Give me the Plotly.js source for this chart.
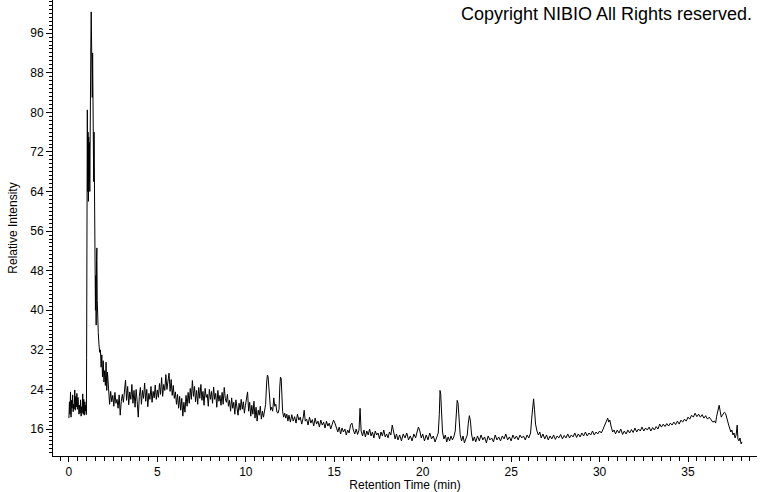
<!DOCTYPE html>
<html>
<head>
<meta charset="utf-8">
<script src="https://cdn.plot.ly/plotly-3.0.1.min.js"></script>
<style>
  html, body { margin: 0; padding: 0; background: #fff; }
  #chart { width: 760px; height: 492px; }
</style>
</head>
<body>
<div id="chart"></div>
<script>
// [retention time (min), relative intensity]
const preSolvent = [[0.00,18.2],[0.03,21.5],[0.06,19.0],[0.09,23.5],[0.12,18.4],[0.15,21.8],[0.18,20.2],[0.21,22.9],[0.24,19.5],[0.27,21.0],
  [0.30,20.1],[0.33,23.9],[0.36,19.8],[0.39,22.6],[0.42,20.5],[0.45,23.2],[0.48,20.0],[0.51,22.4],[0.54,21.0],[0.57,19.0],
  [0.60,20.8],[0.63,19.2],[0.66,21.9],[0.69,18.6],[0.72,20.5],[0.75,19.3],[0.78,23.1],[0.81,19.0],[0.84,22.0],[0.87,18.8],
  [0.90,21.5],[0.93,19.6],[0.96,20.8],[0.98,18.9]];

const solventPeak = [[0.99,19.5],[1.00,30.5],[1.02,62],[1.04,80.5],[1.06,64],[1.08,76],[1.10,62],[1.12,75],[1.14,66],[1.16,74],
  [1.18,64],[1.20,70],[1.22,82],[1.24,94],[1.26,100.3],[1.28,86],[1.30,94.5],[1.32,83],[1.34,92],[1.36,82],
  [1.38,77.8],[1.40,66],[1.42,76],[1.44,62],[1.46,67],[1.48,53],[1.50,40],[1.52,47],[1.54,37],[1.56,50],
  [1.58,52.6],[1.60,42],[1.62,36],[1.64,41],[1.66,35.5],[1.70,33],[1.74,31.5],[1.78,32],[1.82,28.5],[1.86,31],
  [1.90,26.5],[1.94,29.8],[1.98,25.5],[2.02,27.8],[2.06,24.8],[2.10,29.5],[2.14,23.8],[2.18,27.5],[2.22,24.2],[2.26,22.5]];

const earlyPlateau = [[2.30,21.0],[2.36,23.6],[2.42,21.5],[2.48,22.8],[2.54,20.6],[2.60,23.4],[2.66,21.2],[2.72,22.0],[2.78,20.2],[2.84,22.9],[2.90,18.8],[2.96,21.6],[3.02,23.0],
  [3.08,21.4],[3.14,24.2],[3.20,25.9],[3.26,21.8],[3.32,24.6],[3.38,20.9],[3.44,23.5],[3.50,22.0],[3.56,25.0],[3.62,21.2],[3.68,23.8],[3.74,20.4],[3.80,24.0],[3.86,21.5],[3.92,18.4],[3.98,22.6],[4.04,24.4],
  [4.10,21.0],[4.16,23.8],[4.22,22.2],[4.28,25.3],[4.34,21.6],[4.40,24.0],[4.46,20.5],[4.52,23.2],[4.58,22.0],[4.64,24.6],[4.70,21.4],[4.76,23.6],[4.82,22.3],[4.88,24.9],[4.94,22.0],[5.00,23.9],
  [5.06,22.4],[5.12,25.2],[5.18,23.0],[5.24,26.4],[5.30,22.6],[5.36,25.0],[5.42,23.8],[5.48,27.0],[5.54,24.0],[5.60,25.8],[5.66,27.3],[5.72,23.6],[5.78,26.0],[5.84,22.8],[5.90,24.8],[5.96,22.2],[6.02,23.5],
  [6.08,21.0],[6.14,23.0],[6.20,20.2],[6.26,22.6],[6.32,19.8],[6.38,22.2],[6.44,18.6],[6.50,21.4],[6.56,19.4],[6.62,22.8],[6.68,20.6],[6.74,23.4],[6.80,21.2],[6.86,24.2],[6.92,22.0],[6.98,25.8],[7.04,22.6],
  [7.10,24.6],[7.16,21.5],[7.22,23.8],[7.28,21.0],[7.34,24.4],[7.40,22.2],[7.46,25.0],[7.52,21.8],[7.58,23.6],[7.64,20.8],[7.70,24.2],[7.76,22.4],[7.82,23.0],[7.88,20.6],[7.94,24.0],[8.00,22.0],
  [8.06,23.6],[8.12,21.2],[8.18,24.5],[8.24,22.0],[8.30,23.2],[8.36,20.4],[8.42,23.8],[8.48,21.6],[8.54,22.8],[8.60,20.8],[8.66,23.4],[8.72,21.0],[8.78,24.4],[8.84,22.2],[8.90,21.4],[8.96,23.0],[9.02,20.6],
  [9.08,21.8],[9.14,19.6],[9.20,22.3],[9.26,20.2],[9.32,21.4],[9.38,19.0],[9.44,21.9],[9.50,20.4],[9.56,18.8],[9.62,21.2],[9.68,19.8],[9.74,22.0],[9.80,20.0],[9.86,21.5],[9.92,19.2],[9.98,20.8],[10.04,22.4]];

const peaks11to12 = [[10.10,23.5],[10.16,19.6],[10.22,21.4],[10.28,18.6],[10.34,20.8],[10.40,19.0],[10.46,21.6],[10.52,18.2],[10.58,20.4],[10.64,17.6],
  [10.70,19.8],[10.76,18.8],[10.82,20.6],[10.88,18.0],[10.94,19.6],[11.00,18.4],[11.06,19.8],[11.12,21.0],[11.18,25.5],[11.22,26.9],
  [11.26,26.6],[11.30,24.0],[11.34,21.0],[11.40,19.8],[11.46,20.4],[11.52,19.6],[11.58,22.3],[11.64,20.6],[11.70,21.0],[11.76,19.4],
  [11.82,19.2],[11.88,20.0],[11.92,24.5],[11.96,26.5],[12.00,26.2],[12.04,23.0],[12.08,19.6],[12.14,18.4],[12.20,19.2],[12.26,18.2],
  [12.32,19.0],[12.38,17.6]];

const midBaseline = [[12.44,18.8],[12.52,17.4],[12.60,18.9],[12.68,17.6],[12.76,18.5],[12.84,17.2],[12.92,19.0],[13.00,17.8],[13.08,18.4],[13.16,17.0],
  [13.24,18.2],[13.30,19.8],[13.36,17.6],[13.44,18.0],[13.52,16.8],[13.60,18.4],[13.68,17.2],[13.76,17.9],[13.84,16.6],[13.92,18.2],
  [14.00,17.0],[14.08,17.6],[14.16,16.4],[14.24,17.8],[14.32,16.8],[14.40,17.4],[14.48,16.2],[14.56,17.6],[14.64,16.6],[14.72,17.2],
  [14.80,16.0],[14.88,16.9],[14.96,17.8],[15.04,17.2],[15.12,16.2],[15.20,15.4],[15.28,16.4],[15.36,15.0],[15.44,16.2],[15.52,15.4],
  [15.60,16.0],[15.68,14.8],[15.76,15.8],[15.84,15.2],[15.92,16.8],[16.00,17.2],[16.08,15.8],[16.16,15.0],[16.24,16.0],[16.32,14.9],
  [16.40,15.8],[16.46,20.2],[16.52,15.6],[16.60,14.6],[16.68,15.8],[16.76,14.4],[16.84,15.6],[16.92,14.8],[17.00,16.0],[17.08,14.6],
  [17.16,15.4],[17.24,14.2],[17.32,15.6],[17.40,14.8],[17.48,15.2],[17.56,14.0],[17.64,15.4],[17.72,14.6],[17.80,15.8],[17.88,14.4],
  [17.96,15.0],[18.04,14.2],[18.12,15.4],[18.20,14.8],[18.28,16.8],[18.36,15.2],[18.44,14.0],[18.52,15.0],[18.60,13.8],[18.70,14.8],
  [18.80,13.6],[18.90,15.0],[19.00,14.2],[19.10,15.2],[19.20,13.8],[19.30,14.6],[19.40,13.6],[19.50,15.0],[19.60,14.2],[19.68,15.4],
  [19.76,16.4],[19.84,15.6],[19.92,14.2],[20.00,15.0],[20.10,13.6],[20.20,14.8],[20.30,13.8],[20.40,15.2],[20.50,14.0],[20.60,14.6],
  [20.70,13.4],[20.80,14.4],[20.88,15.2]];

const peaks21to23 = [[20.94,19.0],[20.98,23.8],[21.02,23.0],[21.06,18.5],[21.12,15.4],[21.20,14.0],[21.28,14.8],[21.36,13.4],[21.44,14.4],[21.52,13.6],
  [21.60,14.6],[21.68,13.8],[21.76,14.4],[21.84,15.6],[21.90,20.0],[21.95,21.8],[22.00,21.2],[22.06,17.0],[22.12,14.8],[22.20,13.6],
  [22.28,14.6],[22.36,13.2],[22.44,14.2],[22.52,14.8],[22.58,17.2],[22.64,18.7],[22.70,17.6],[22.76,15.0],[22.84,13.6],[22.92,14.4]];

const peak26 = [[23.00,13.4],[23.10,14.6],[23.20,13.6],[23.30,14.8],[23.40,13.8],[23.50,14.4],[23.60,13.2],[23.70,14.6],[23.80,13.8],[23.90,14.2],
  [24.00,13.4],[24.10,14.8],[24.20,13.8],[24.30,14.4],[24.40,13.6],[24.50,14.6],[24.60,14.0],[24.70,15.0],[24.80,13.8],[24.90,14.4],
  [25.00,13.6],[25.10,14.8],[25.20,14.0],[25.30,14.6],[25.40,13.8],[25.50,14.8],[25.60,14.2],[25.70,14.6],[25.80,13.8],[25.90,14.8],
  [26.00,14.2],[26.10,15.2],[26.16,18.0],[26.22,21.6],[26.27,22.1],[26.32,20.0],[26.38,17.0],[26.46,15.6],[26.54,14.8],[26.62,15.4]];

const lateBaseline = [[26.70,14.2],[26.80,15.0],[26.90,14.0],[27.00,14.8],[27.10,13.8],[27.20,14.6],[27.30,14.0],[27.40,14.8],[27.50,13.9],[27.60,14.6],
  [27.70,14.2],[27.80,14.9],[27.90,14.0],[28.00,14.7],[28.10,14.2],[28.20,15.0],[28.30,14.2],[28.40,14.8],[28.50,14.4],[28.60,15.2],
  [28.70,14.3],[28.80,15.0],[28.90,14.4],[29.00,15.2],[29.10,14.6],[29.20,15.4],[29.30,14.6],[29.40,15.2],[29.50,14.8],[29.60,15.6],
  [29.70,14.8],[29.80,15.4],[29.90,15.0],[30.00,15.6],[30.10,15.2],[30.20,16.0],[30.30,16.8],[30.40,17.6],[30.46,18.2],[30.52,17.4],
  [30.58,17.8],[30.66,16.4],[30.74,15.4],[30.82,15.8]];

const finalHump = [[30.90,15.0],[31.00,15.8],[31.10,15.2],[31.20,16.0],[31.30,14.9],[31.40,15.6],[31.50,15.0],[31.60,15.8],[31.70,15.2],[31.80,15.9],
  [31.90,15.3],[32.00,16.2],[32.10,15.4],[32.20,16.0],[32.30,15.6],[32.40,16.4],[32.50,15.6],[32.60,16.2],[32.70,15.8],[32.80,16.4],
  [32.90,15.6],[33.00,16.3],[33.10,15.8],[33.20,16.5],[33.30,16.0],[33.40,17.0],[33.50,16.4],[33.60,17.0],[33.70,16.5],[33.80,17.1],
  [33.90,16.6],[34.00,17.2],[34.10,16.8],[34.20,17.4],[34.30,16.9],[34.40,17.6],[34.50,17.0],[34.60,17.8],[34.70,17.4],[34.80,18.0],
  [34.90,17.6],[35.00,18.4],[35.10,18.0],[35.20,18.8],[35.30,18.4],[35.40,19.2],[35.50,18.5],[35.60,19.0],[35.70,18.4],[35.80,18.9],
  [35.90,18.2],[36.00,18.7],[36.10,18.0],[36.20,18.4],[36.30,17.8],[36.40,17.4],[36.50,17.6],[36.56,17.2],[36.62,18.6],[36.70,20.0],
  [36.76,20.8],[36.82,19.6],[36.88,18.4],[36.94,18.8],[37.00,19.0],[37.06,19.4],[37.12,19.2],[37.18,18.6],[37.24,17.6],[37.30,16.8],
  [37.36,16.0],[37.42,15.4],[37.48,15.8],[37.54,14.8],[37.60,15.2],[37.66,14.2],[37.72,14.8],[37.78,16.8],[37.82,14.0],[37.88,13.6],
  [37.94,14.2],[38.00,13.0],[38.05,13.4]];

const yTickLabels = [16, 24, 32, 40, 48, 56, 64, 72, 80, 88, 96];
const xTickLabels = [0, 5, 10, 15, 20, 25, 30, 35];

const segments = [preSolvent, solventPeak, earlyPlateau, peaks11to12, midBaseline, peaks21to23, peak26, lateBaseline, finalHump];
const points = segments.flat();
const retentionTime = points.map(p => p[0]);
const intensity = points.map(p => p[1]);

const font = 'Liberation Sans, Arial, sans-serif';

const trace = {
  x: retentionTime,
  y: intensity,
  type: 'scatter',
  mode: 'lines',
  line: { color: '#000', width: 1 },
  hoverinfo: 'skip'
};

const layout = {
  width: 760,
  height: 492,
  margin: { l: 53, r: 3, t: 0, b: 36, pad: 0 },
  paper_bgcolor: '#fff',
  plot_bgcolor: '#fff',
  showlegend: false,
  font: { family: font, color: '#000', size: 12 },
  xaxis: {
    range: [-0.9, 38.9],
    tickmode: 'array',
    tickvals: xTickLabels,
    ticktext: xTickLabels.map(String),
    ticks: 'outside',
    ticklen: 5,
    tickwidth: 1,
    tickcolor: '#000',
    minor: { dtick: 0.5, tick0: 0, ticks: 'outside', ticklen: 4, tickwidth: 1, tickcolor: '#000', showgrid: false },
    showline: true,
    linecolor: '#000',
    linewidth: 1,
    showgrid: false,
    zeroline: false,
    tickfont: { family: font, size: 12, color: '#000' },
    title: { text: 'Retention Time (min)', font: { family: font, size: 12, color: '#000' }, standoff: 0 },
    automargin: false
  },
  yaxis: {
    range: [10.55, 102.7],
    tickmode: 'array',
    tickvals: yTickLabels,
    ticktext: yTickLabels.map(String),
    ticks: 'outside',
    ticklen: 6,
    tickwidth: 1,
    tickcolor: '#000',
    minor: { dtick: 0.8, tick0: 0, ticks: 'outside', ticklen: 3, tickwidth: 1, tickcolor: '#000', showgrid: false },
    showline: true,
    linecolor: '#000',
    linewidth: 1,
    showgrid: false,
    zeroline: false,
    tickfont: { family: font, size: 12, color: '#000' },
    title: { text: 'Relative Intensity', font: { family: font, size: 12, color: '#000' }, standoff: 10 },
    automargin: false
  },
  annotations: [{
    text: 'Copyright NIBIO All Rights reserved.',
    xref: 'paper', yref: 'paper',
    x: 0.9957, y: 1,
    xanchor: 'right', yanchor: 'top',
    yshift: -2,
    showarrow: false,
    font: { family: font, size: 18, color: '#000' }
  }]
};

Plotly.newPlot('chart', [trace], layout, { staticPlot: true, displayModeBar: false });
</script>
</body>
</html>
